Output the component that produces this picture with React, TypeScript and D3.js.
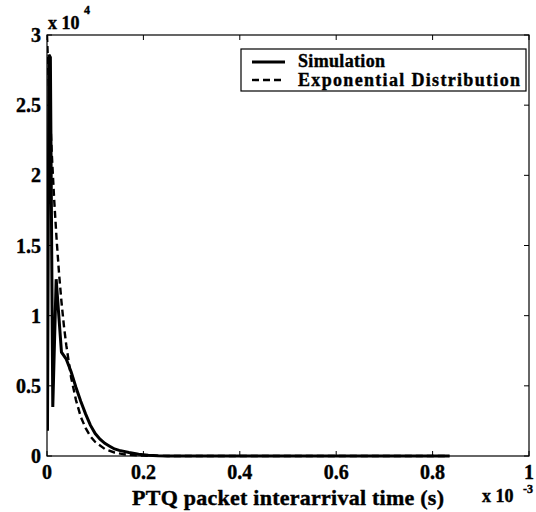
import React from "react";
import * as d3 from "d3";

const xTicks = [0, 0.2, 0.4, 0.6, 0.8, 1];
const xTickLabels = ["0", "0.2", "0.4", "0.6", "0.8", "1"];
const yTicks = [0, 0.5, 1, 1.5, 2, 2.5, 3];
const yTickLabels = ["0", "0.5", "1", "1.5", "2", "2.5", "3"];

// x in units of 1e-3 s, y in units of 1e4
const simX = [0.001, 0.004, 0.007, 0.012, 0.019, 0.03, 0.04, 0.05, 0.06, 0.07, 0.08, 0.09, 0.1, 0.11, 0.12, 0.13, 0.14, 0.15, 0.17, 0.19, 0.21, 0.23, 0.25, 0.4, 0.6, 0.835];
const simY = [0.18, 2.86, 2.84, 0.35, 1.26, 0.74, 0.69, 0.6, 0.49, 0.39, 0.3, 0.22, 0.16, 0.12, 0.09, 0.07, 0.05, 0.04, 0.025, 0.012, 0.005, 0.001, 0, 0, 0, 0];

const expX = [0, 0.005, 0.01, 0.015, 0.02, 0.025, 0.03, 0.035, 0.04, 0.05, 0.06, 0.07, 0.08, 0.09, 0.1, 0.12, 0.14, 0.16, 0.18, 0.2, 0.22, 0.25, 0.4, 0.6, 0.835];
const expY = [3.0, 2.54, 2.15, 1.82, 1.54, 1.3, 1.1, 0.93, 0.79, 0.56, 0.4, 0.28, 0.2, 0.14, 0.1, 0.05, 0.025, 0.012, 0.006, 0.003, 0.0015, 0.0005, 0, 0, 0];

const legendLabels = ["Simulation", "Exponential Distribution"];

const W = 536, H = 512;
const L = 47, R = 529, T = 35, B = 456;

export default function App() {
  const x = d3.scaleLinear().domain([0, 1]).range([L, R]);
  const y = d3.scaleLinear().domain([0, 3]).range([B, T]);
  const mk = d3.line<[number, number]>().x(d => x(d[0])).y(d => y(d[1]));
  const simPath = mk(simX.map((v, i) => [v, simY[i]] as [number, number]));
  const expPath = mk(expX.map((v, i) => [v, expY[i]] as [number, number]));
  const font = "'Liberation Serif', 'Times New Roman', serif";
  const ts = { stroke: "#000", strokeWidth: 0.4 };
  return (
    <svg width={W} height={H} style={{ position: "absolute", left: 0, top: 0, background: "#fff" }} fontFamily={font} fontWeight="bold">
      <rect x={0} y={0} width={W} height={H} fill="#fff" />
      <defs>
        <clipPath id="c"><rect x={L} y={T - 1} width={R - L} height={B - T + 4} /></clipPath>
      </defs>
      <g clipPath="url(#c)">
        <path d={expPath || ""} fill="none" stroke="#000" strokeWidth={2.4} strokeDasharray="7,4" />
        <path d={simPath || ""} fill="none" stroke="#000" strokeWidth={3} />
      </g>
      <rect x={L} y={T} width={R - L} height={B - T} fill="none" stroke="#000" strokeWidth={1.2} />
      {xTicks.map((t, i) => (
        <g key={"x" + i}>
          <line x1={x(t)} x2={x(t)} y1={B} y2={B - 5} stroke="#000" />
          <line x1={x(t)} x2={x(t)} y1={T} y2={T + 5} stroke="#000" />
          <text x={x(t)} y={479} textAnchor="middle" fontSize={20} {...ts}>{xTickLabels[i]}</text>
        </g>
      ))}
      {yTicks.map((t, i) => (
        <g key={"y" + i}>
          <line x1={L} x2={L + 5} y1={y(t)} y2={y(t)} stroke="#000" />
          <line x1={R} x2={R - 5} y1={y(t)} y2={y(t)} stroke="#000" />
          <text x={41} y={y(t) + 7} textAnchor="end" fontSize={20} {...ts}>{yTickLabels[i]}</text>
        </g>
      ))}
      <text x={48} y={29} fontSize={18} {...ts}>x 10</text>
      <text x={84} y={14} fontSize={12} {...ts}>4</text>
      <text x={482} y={502} fontSize={18} {...ts}>x 10</text>
      <text x={523} y={493} fontSize={12} {...ts}>-3</text>
      <text x={(L + R) / 2} y={505} textAnchor="middle" fontSize={22} textLength={312} {...ts}>PTQ packet interarrival time (s)</text>
      <rect x={241} y={49} width={285} height={42} fill="#fff" stroke="#000" strokeWidth={1.2} />
      <line x1={252} x2={285} y1={62} y2={62} stroke="#000" strokeWidth={3} />
      <line x1={252} x2={285} y1={80} y2={80} stroke="#000" strokeWidth={2.4} strokeDasharray="7,4" />
      <text x={298} y={67} fontSize={18} textLength={87} {...ts}>{legendLabels[0]}</text>
      <text x={298} y={86} fontSize={18} textLength={222} {...ts}>{legendLabels[1]}</text>
    </svg>
  );
}
